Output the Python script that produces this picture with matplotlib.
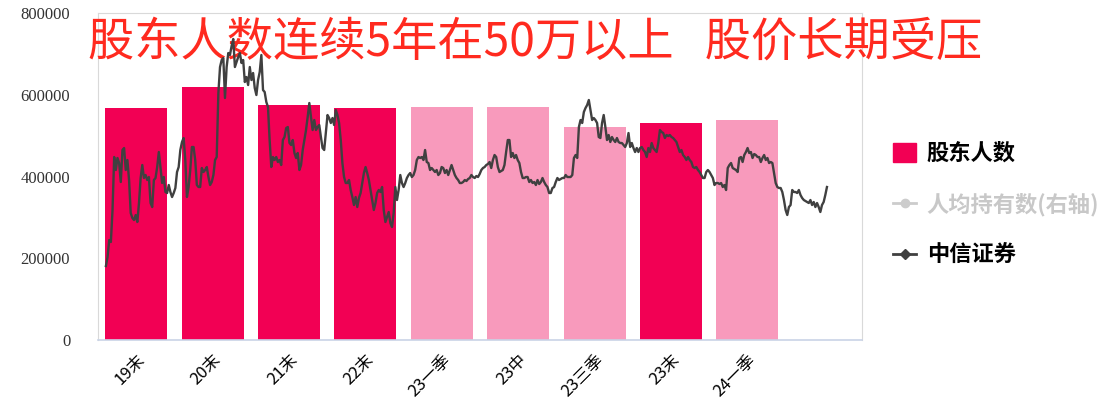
import numpy as np
import matplotlib
matplotlib.use('Agg')
import matplotlib.pyplot as plt
import matplotlib.transforms as mtransforms
from matplotlib.patches import Patch
from matplotlib.lines import Line2D

plt.rcParams['font.family'] = ['Noto Sans CJK SC', 'DejaVu Sans']

# 股东人数 (bars)
periods = ['19末', '20末', '21末', '22末', '23一季', '23中', '23三季', '23末', '24一季']
holders = [567000, 620000, 574000, 567000, 571000, 571000, 521000, 532000, 539000]
is_year_end = [True, True, True, True, False, False, False, True, False]

# 中信证券 price (oldest -> newest)
citic_price = [
    15.4, 16.3, 18.0, 17.8, 21.0, 26.3, 25.0, 26.2, 25.7, 23.8,
    27.0, 27.2, 25.0, 26.0, 24.0, 20.7, 20.2, 20.0, 20.5, 19.8,
    21.7, 24.2, 25.5, 24.2, 24.5, 24.0, 24.3, 21.7, 21.3, 24.0,
    24.2, 25.3, 26.8, 25.3, 23.7, 24.3, 22.8, 22.7, 23.5, 22.8,
    22.3, 22.7, 23.2, 24.8, 25.3, 27.0, 27.8, 28.2, 26.0, 22.3,
    23.3, 25.0, 27.3, 27.3, 26.0, 23.5, 23.3, 23.3, 25.2, 24.8,
    25.0, 25.3, 24.3, 23.5, 23.8, 24.5, 26.0, 26.3, 32.7, 35.3,
    36.0,
    36.2, 32.2, 35.3, 36.7, 36.5, 37.4, 38.1, 35.3, 35.8, 36.3,
    36.7, 35.7, 36.0, 33.8, 34.3, 33.5, 35.3, 34.0, 34.7, 33.2,
    32.5, 34.0, 34.8, 36.5, 33.0, 32.8, 31.8, 31.3, 28.0, 25.3,
    26.3, 26.0, 26.3, 25.8, 26.0, 25.5, 28.0, 28.3, 29.2, 29.3,
    27.7, 27.5, 28.0, 26.7, 26.2, 26.7, 25.0, 25.5, 27.0, 28.0,
    29.0, 30.3, 31.7, 30.3, 29.0, 30.0, 29.0, 29.3, 29.5, 28.3,
    27.2, 27.0, 28.7, 30.5, 30.2, 29.7, 30.2, 29.5, 31.0, 30.5,
    29.7, 28.0, 25.7, 24.3, 23.7,
    23.7, 24.0, 23.0, 22.3, 21.5, 22.3, 21.3, 22.2, 22.7, 23.7,
    24.7, 25.3, 24.7, 24.0, 23.0, 22.0, 21.0, 21.7, 22.7, 23.0,
    22.8, 23.3, 21.0, 19.8, 20.3, 20.8, 19.7, 19.3, 20.7, 23.3,
    22.0, 23.0, 24.5, 23.7, 23.3, 23.7, 24.2, 24.5, 24.7, 24.3,
    24.5, 25.0, 26.0, 26.3, 26.2, 26.3, 26.0, 27.0, 25.8, 25.7,
    25.0, 25.2, 25.0, 24.8, 25.0, 24.5, 24.7, 25.3, 25.2, 24.7,
    25.0, 24.5, 25.0, 25.5, 25.0, 24.5, 24.2, 24.0, 23.7, 23.7,
    23.8, 24.0,
    23.9, 24.1, 24.2, 24.5, 24.3, 24.2, 24.4, 24.3, 24.6, 25.0,
    25.2, 25.3, 25.5, 25.6, 25.8, 25.2, 26.0, 26.5, 26.3, 25.3,
    24.8, 24.9, 25.0, 25.5, 26.8, 28.0, 28.0, 26.3, 26.7, 26.2,
    26.5, 26.0, 25.7, 24.8, 24.2, 24.2, 24.3, 24.3, 23.8, 24.0,
    23.7, 23.8, 23.5, 24.0, 23.6, 23.8, 24.2, 23.8, 23.5, 23.3,
    22.7, 22.7, 23.2, 23.3, 23.8, 24.2, 24.0, 24.1, 24.2, 24.2,
    24.5, 24.3, 24.3, 24.3, 24.5, 26.2, 26.5, 26.2, 29.3, 30.0,
    29.7, 30.8, 31.2, 31.5, 32.0, 31.0, 30.0, 30.2, 30.0, 29.7,
    28.3, 28.2, 29.7, 30.5, 29.3, 28.0, 28.5, 27.8, 28.3, 28.0,
    27.8, 28.2, 27.8, 27.7, 27.7, 27.5, 27.3, 27.7, 28.7, 27.3,
    27.7, 27.2, 26.8, 27.2, 26.8, 27.2, 27.3, 27.0, 26.8, 26.3,
    27.2, 26.8, 27.7, 27.2, 27.0, 26.8, 27.7, 29.0, 28.8, 28.7,
    28.2, 28.5, 28.4, 28.5, 28.3, 28.2, 28.0, 27.8, 27.3, 26.8,
    27.0, 26.5, 26.3, 26.0, 26.3, 26.0, 25.8, 25.3, 25.2, 25.3,
    25.0, 24.8, 24.5, 24.2,
    24.2, 24.8, 25.0, 24.8, 24.5, 24.2, 23.5, 23.7, 23.7, 23.6,
    23.7, 23.3, 23.5, 23.0, 25.2, 25.5, 25.7, 25.2, 25.1, 25.0,
    24.8, 26.2, 26.3, 25.8, 26.5, 26.8, 27.2, 26.7, 26.8, 26.2,
    26.6, 26.5, 26.3, 26.3, 25.8, 26.2, 26.5, 26.0, 26.2, 25.7,
    25.8, 25.7, 24.7, 23.7, 23.3, 23.2, 23.2, 22.8, 22.0, 21.0,
    20.5, 21.3, 21.5, 23.0, 22.8, 22.8, 22.7, 23.0, 22.5, 22.2,
    22.0, 21.9, 21.8, 21.7, 22.0, 21.5, 21.8, 21.3, 21.7, 21.3,
    20.8, 21.5, 21.8, 22.5, 23.3,
]

yticks = [0, 200000, 400000, 600000, 800000]

dark_pink = '#F20054'
light_pink = '#F89ABC'
line_grey = '#404040'

fig = plt.figure(figsize=(11.07, 4.03), dpi=100)
ax = fig.add_axes([0.0885, 0.1563, 0.6902, 0.8114])

# bars, one empty slot left at the end like in the original sheet
x = np.arange(len(periods))
colors = [dark_pink if ye else light_pink for ye in is_year_end]
ax.bar(x, holders, width=0.81, color=colors, zorder=2)
ax.set_xlim(-0.5, len(periods) + 0.5)
ax.set_ylim(0, 800000)
ax.set_yticks(yticks)
ax.set_yticklabels([str(v) for v in yticks], family='Liberation Serif',
                   fontsize=12, color='#333333')
ax.set_xticks(x)
ax.set_xticklabels(periods, rotation=45, ha='right', rotation_mode='anchor',
                   fontsize=12)
# nudge the slanted labels a bit to the right
shift = mtransforms.ScaledTranslation(7 / 72, 0, fig.dpi_scale_trans)
for lab in ax.get_xticklabels():
    lab.set_transform(lab.get_transform() + shift)
ax.tick_params(axis='both', length=0)
ax.tick_params(axis='y', pad=20)
ax.tick_params(axis='x', pad=8)
for s in ['left', 'right', 'top']:
    ax.spines[s].set_color('#D9D9D9')
ax.spines['bottom'].set_color('#C9D3E6')
ax.spines['bottom'].set_linewidth(1.2)

# stock price on its own hidden axes on top
ax2 = fig.add_axes(ax.get_position(), frameon=False, zorder=5)
n = len(citic_price)
ax2.plot(np.arange(n), citic_price, color=line_grey, lw=1.7)
ax2.set_xlim(-4.8, n - 1 + 21.2)
ax2.set_ylim(8, 40.7)
ax2.axis('off')

# big red headline
fig.text(0.0795, 0.896, '股东人数连续5年在50万以上   股价长期受压',
         fontsize=33.3, color='#FF2A1F', va='center', ha='left', zorder=1)

# legend
handles = [
    Patch(facecolor=dark_pink, edgecolor=dark_pink),
    Line2D([], [], color='#CCCCCC', marker='o', markersize=6, lw=2),
    Line2D([], [], color=line_grey, marker='D', markersize=5, lw=2),
]
labels = ['股东人数', '人均持有数(右轴)', '中信证券']
leg = fig.legend(handles, labels, loc='upper left',
                 bbox_to_anchor=(0.797, 0.675), frameon=False,
                 prop={'family': ['Noto Sans CJK SC', 'DejaVu Sans'],
                       'size': 16, 'weight': 'bold'},
                 labelspacing=1.25, handlelength=1.0, handleheight=0.9,
                 handletextpad=0.5, borderpad=0)
leg.get_texts()[1].set_color('#C8C8C8')

fig.savefig('out.png', dpi=100)
